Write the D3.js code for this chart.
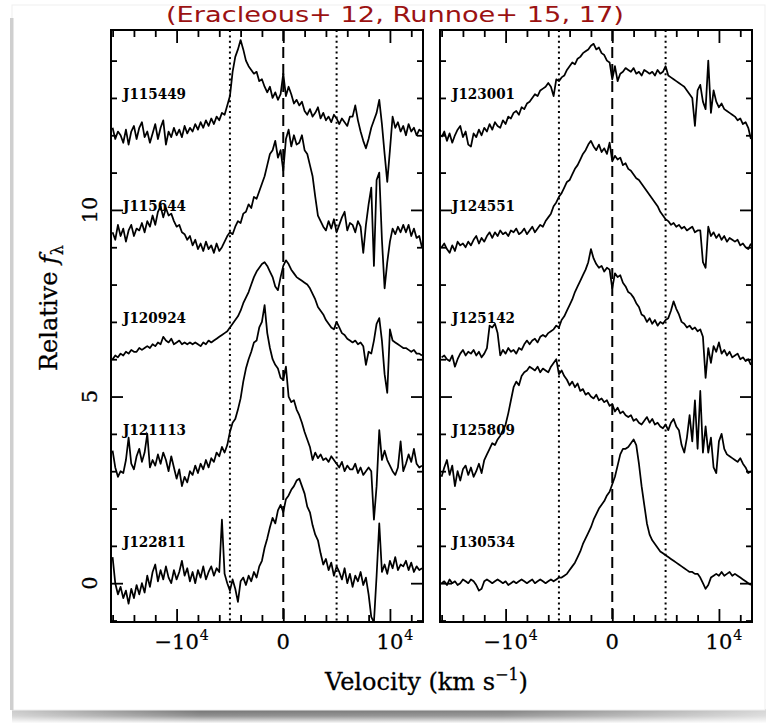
<!DOCTYPE html>
<html><head><meta charset="utf-8">
<script src="https://cdn.jsdelivr.net/npm/d3@7/dist/d3.min.js"></script>
<style>body{margin:0;background:#fff}svg{display:block}</style>
</head><body>
<svg id="chart" width="766" height="723"></svg>
<script>
// ---------------- DATA ----------------
const titleText = "(Eracleous+ 12, Runnoe+ 15, 17)";
// velocity sampling of every spectrum (km/s): start and step
const velStart = -16000, velStep = 250, nSamples = 117;
const velocity = d3.range(nSamples).map(i => velStart + i * velStep);

const leftNames  = ["J115449", "J115644", "J120924", "J121113", "J122811"];
const rightNames = ["J123001", "J124551", "J125142", "J125809", "J130534"];
const labelLevels = [13, 10, 7, 4, 1];

const xMajorTicks = [-10000, 0, 10000];
const xMinorTicks = [-16000,-14000,-12000,-8000,-6000,-4000,-2000,2000,4000,6000,8000,12000];
const xTickLabels = [{base:"\u221210", sup:"4"}, {base:"0", sup:""}, {base:"10", sup:"4"}];
const yMajorTicks = [0, 5, 10];
const yMinorTicks = [-1,1,2,3,4,6,7,8,9,11,12,13,14];
const yTickLabels = ["0", "5", "10"];
const refLines = {center: 0, wings: [-5000, 5000]};

const fluxJ115449 = [
12.2,11.9,12.1,12.0,11.8,12.15,11.75,12.1,12.25,11.9,
12.2,12.35,11.95,12.1,11.8,12.05,12.3,11.9,12.2,12.4,
11.75,12.1,11.95,12.2,12.0,12.15,11.95,12.25,12.05,12.2,
12.1,12.3,12.15,12.35,12.2,12.4,12.25,12.45,12.3,12.5,
12.4,12.6,12.55,12.8,13.05,13.7,14.1,14.3,14.55,14.3,
14.0,13.85,13.75,13.65,13.7,13.45,13.5,13.3,13.15,13.3,
13.0,13.15,12.95,13.1,13.65,13.05,13.3,13.1,12.85,12.95,
12.8,12.9,12.65,12.55,12.7,12.5,12.6,12.75,12.45,12.6,
12.4,12.5,12.35,12.55,12.45,12.3,12.45,12.35,12.25,12.5,
12.5,12.8,12.4,12.1,11.85,11.65,11.9,12.2,12.4,12.6,
12.95,12.3,11.5,10.75,11.6,12.5,12.2,12.35,12.1,12.25,
12.0,12.3,12.1,12.2,12.0,12.15,12.1];
const fluxJ115644 = [
9.4,9.2,9.6,9.3,9.5,9.15,9.45,9.6,9.3,9.5,
9.45,9.65,9.4,9.7,9.55,9.85,9.6,9.95,10.1,9.8,
10.05,9.85,9.9,9.7,9.55,9.6,9.4,9.35,9.2,9.3,
9.05,9.2,8.95,9.1,8.9,9.15,8.95,9.05,8.85,9.1,
8.9,9.0,9.15,9.3,9.4,9.35,9.55,9.7,9.65,9.9,
9.95,10.15,10.05,10.35,10.3,10.5,10.7,10.9,11.2,11.5,
11.6,11.85,11.4,11.6,11.05,11.9,12.15,11.7,12.0,11.75,
11.8,12.0,11.6,11.5,11.2,10.9,10.35,9.85,9.7,9.55,
9.45,9.7,9.5,9.75,9.4,9.6,9.8,9.95,9.45,9.65,
9.6,9.4,9.7,9.55,8.85,9.6,10.15,10.6,8.5,10.8,
11.0,9.2,7.9,8.6,9.15,9.5,9.35,9.55,9.4,9.6,
9.4,9.6,9.3,9.5,9.25,9.3,9.0];
const fluxJ120924 = [
6.0,6.1,6.05,6.15,6.1,6.2,6.15,6.25,6.2,6.2,
6.3,6.25,6.3,6.35,6.3,6.4,6.35,6.45,6.4,6.6,
6.5,6.45,6.55,6.4,6.45,6.5,6.4,6.45,6.4,6.45,
6.4,6.45,6.4,6.35,6.45,6.4,6.5,6.45,6.5,6.55,
6.6,6.65,6.7,6.75,6.85,6.95,7.05,7.15,7.3,7.5,
7.65,7.8,8.0,8.2,8.35,8.45,8.55,8.6,8.5,8.35,
8.2,7.95,7.85,8.2,8.5,8.65,8.55,8.4,8.3,8.2,
8.15,8.1,8.05,8.0,7.9,7.75,7.6,7.4,7.3,7.2,
7.05,6.95,6.85,6.8,7.0,6.85,6.7,6.65,6.55,6.5,
6.45,6.5,6.4,6.45,6.35,5.85,6.2,6.15,6.5,6.95,
7.1,6.5,5.6,5.1,6.8,6.5,6.45,6.4,6.35,6.3,
6.3,6.25,6.2,6.25,6.15,6.15,6.1];
const fluxJ121113 = [
3.55,3.1,2.85,3.0,2.95,3.3,3.9,3.2,3.05,3.4,
3.6,3.25,3.5,4.0,3.1,3.3,3.15,3.45,3.2,3.5,
3.3,3.0,3.4,3.1,2.8,3.05,2.6,2.85,2.7,3.0,
2.9,3.15,2.95,3.2,3.05,3.3,3.1,3.35,3.25,3.5,
3.4,3.65,3.5,3.7,4.05,4.3,4.4,4.65,4.95,5.4,
5.75,6.0,6.2,6.45,6.5,6.85,7.0,7.45,6.7,6.3,
6.0,5.85,5.75,5.5,5.45,5.8,5.0,4.85,4.9,4.65,
4.5,4.3,4.05,3.85,3.65,3.3,3.5,3.35,3.45,3.3,
3.35,3.25,3.4,3.3,3.2,3.1,3.25,3.0,3.15,3.05,
3.05,3.2,2.95,3.1,2.9,3.0,3.1,3.0,1.7,2.6,
4.1,3.3,3.55,3.3,3.15,3.0,2.9,3.1,3.8,3.0,
3.2,3.45,3.25,3.6,3.2,3.1,3.15];
const fluxJ122811 = [
0.7,0.0,-0.3,-0.1,-0.4,-0.2,-0.55,-0.15,-0.4,-0.05,
-0.3,0.0,-0.25,0.2,-0.1,0.3,0.5,0.05,0.35,0.1,
0.45,0.15,0.0,0.35,0.1,0.3,0.6,0.2,0.4,0.05,
0.3,0.0,0.35,0.15,0.45,0.1,0.3,0.45,0.2,0.4,
0.3,1.7,0.25,0.0,-0.2,0.1,-0.15,-0.5,0.05,0.15,
-0.05,0.2,0.05,0.3,0.15,0.45,0.6,0.95,1.2,1.5,
1.75,1.6,1.95,2.1,1.9,2.25,2.35,2.5,2.6,2.75,
2.8,2.6,2.4,2.05,1.9,1.55,1.3,1.15,0.8,0.5,
0.65,0.35,0.55,0.2,0.45,0.3,0.1,0.4,0.0,0.25,
-0.1,0.2,0.05,0.3,-0.05,0.15,-0.3,-0.9,-1.05,0.2,
1.6,0.3,0.5,0.25,0.6,0.4,0.7,0.35,0.5,0.45,
0.6,0.35,0.55,0.3,0.45,0.35,0.4];
const fluxJ123001 = [
11.95,12.1,11.85,12.05,11.8,12.0,12.15,12.25,11.95,12.1,
11.75,11.7,12.05,11.95,12.15,12.0,12.2,12.1,12.3,12.15,
12.35,12.25,12.2,12.4,12.3,12.5,12.45,12.6,12.65,12.55,
12.75,12.7,12.85,12.9,13.0,13.1,13.05,13.2,13.25,13.3,
13.4,13.3,13.05,13.5,13.45,13.55,13.6,13.75,13.85,13.95,
13.9,14.05,14.1,14.2,14.25,14.3,14.4,14.45,14.3,14.35,
14.2,14.15,14.0,13.95,13.5,13.85,13.45,13.65,13.7,13.8,
13.75,13.7,13.8,13.65,13.7,13.6,13.75,13.7,13.65,13.7,
13.6,13.75,13.65,13.7,13.85,13.6,13.55,13.5,13.45,13.4,
13.35,13.3,13.2,13.1,13.0,12.25,13.2,13.35,12.9,12.7,
14.0,12.6,13.2,12.9,12.75,12.85,12.7,12.65,12.6,12.55,
12.5,12.4,12.45,12.3,12.35,12.2,11.9];
const fluxJ124551 = [
9.0,9.1,8.95,8.85,9.05,8.9,9.15,9.05,9.1,9.0,
9.15,9.05,9.2,9.3,9.1,9.25,9.15,9.3,9.4,9.25,
9.4,9.3,9.45,9.35,9.4,9.3,9.45,9.4,9.5,9.35,
9.4,9.5,9.35,9.45,9.55,9.4,9.5,9.6,9.55,9.7,
9.8,9.9,10.1,10.2,10.35,10.45,10.6,10.75,10.8,10.95,
11.1,11.2,11.35,11.5,11.6,11.75,11.85,11.7,11.6,11.75,
11.55,11.65,11.5,11.8,11.3,11.45,11.35,11.4,11.2,11.25,
11.1,11.05,10.95,10.85,10.8,10.7,10.6,10.5,10.4,10.3,
10.2,10.1,9.95,9.85,9.75,9.7,9.6,9.65,9.55,9.6,
9.5,9.55,9.45,9.5,9.55,9.4,9.45,9.45,8.6,8.45,
9.55,9.3,9.4,9.25,9.35,9.2,9.3,9.15,9.25,9.2,
9.15,9.2,9.05,9.1,9.0,8.95,9.1];
const fluxJ125142 = [
6.05,6.1,6.0,5.95,6.1,5.8,6.0,6.15,6.25,6.1,
6.2,6.15,6.25,6.1,6.2,6.05,6.15,6.3,6.9,6.85,
6.95,6.7,6.1,6.25,6.15,6.3,6.2,6.25,6.15,6.3,
6.25,6.4,6.5,6.4,6.5,6.55,6.45,6.6,6.65,6.6,
6.7,6.75,6.8,6.9,6.85,7.05,7.15,7.3,7.45,7.6,
7.8,7.95,8.1,8.25,8.4,8.6,8.95,8.7,8.55,8.45,
8.5,8.35,8.45,8.4,7.9,8.3,8.2,8.25,8.05,7.95,
7.8,7.75,7.65,7.5,7.4,7.2,7.15,7.0,7.1,6.95,
7.05,6.9,7.0,6.95,7.05,7.1,7.3,7.55,7.35,7.2,
7.0,6.95,6.85,6.9,6.8,6.85,6.75,6.8,6.6,5.5,
6.3,5.9,6.35,6.2,6.45,6.15,6.25,6.1,6.2,6.05,
6.1,6.15,6.0,6.05,5.95,6.0,5.85];
const fluxJ125809 = [
2.85,3.1,3.3,2.9,3.15,2.6,3.0,2.75,3.05,3.15,
2.9,3.1,2.85,3.0,3.2,2.95,3.3,3.45,3.6,3.75,
3.7,3.85,3.95,4.1,4.25,4.55,4.9,5.25,5.4,5.3,
5.55,5.65,5.7,5.8,5.75,5.7,5.8,5.65,5.75,5.7,
5.65,5.8,5.9,6.0,5.6,5.7,5.55,5.45,5.3,5.4,
5.25,5.35,5.15,5.2,5.05,5.1,5.0,4.95,5.05,4.9,
4.95,4.85,4.9,4.75,4.8,4.6,4.7,4.55,4.6,4.5,
4.45,4.5,4.35,4.4,4.3,4.25,4.35,4.45,4.3,4.4,
4.25,4.3,4.2,4.15,4.25,4.1,4.3,4.4,4.2,4.1,
3.7,3.5,3.9,4.5,3.8,4.9,3.6,5.15,3.5,4.2,
3.5,3.9,3.1,2.95,3.8,4.0,3.6,3.45,3.4,3.35,
3.3,3.25,3.35,3.2,3.1,2.95,3.0];
const fluxJ130534 = [
0.0,0.05,-0.05,0.1,0.0,0.05,-0.05,0.0,0.1,0.05,
0.0,0.1,0.05,-0.05,-0.2,-0.15,0.05,0.1,0.05,0.0,
0.05,0.1,0.05,0.0,0.05,-0.05,0.0,0.05,0.0,0.05,
0.1,0.05,0.0,0.05,0.1,0.0,0.05,0.1,0.05,0.0,
0.05,0.1,0.05,0.1,0.15,0.15,0.2,0.25,0.35,0.45,
0.55,0.7,0.85,1.05,1.2,1.35,1.5,1.7,1.85,2.0,
2.1,2.2,2.35,2.45,2.65,2.85,3.15,3.45,3.6,3.6,
3.65,3.75,3.85,3.7,3.2,2.6,2.1,1.6,1.3,1.15,
1.05,0.95,0.85,0.8,0.75,0.7,0.65,0.6,0.55,0.5,
0.45,0.4,0.35,0.3,0.3,0.25,0.25,0.15,0.0,-0.15,
-0.05,0.15,0.2,0.25,0.2,0.3,0.2,0.25,0.3,0.2,
0.25,0.2,0.15,0.1,0.05,0.0,-0.05];

const leftFluxes  = [fluxJ115449, fluxJ115644, fluxJ120924, fluxJ121113, fluxJ122811];
const rightFluxes = [fluxJ123001, fluxJ124551, fluxJ125142, fluxJ125809, fluxJ130534];

// ---------------- DRAW ----------------
const svg = d3.select("#chart");
const defs = svg.append("defs");
const W = 766, H = 723;

// slide card with shadow
const gH = defs.append("linearGradient").attr("id","shH").attr("x1","0").attr("x2","1").attr("y1","0").attr("y2","0");
[[0,"#c8c8c8"],[0.25,"#6e6e6e"],[0.65,"#7a7a7a"],[1,"#d4d4d4"]].forEach(([o,c])=>gH.append("stop").attr("offset",o).attr("stop-color",c));
const gV = defs.append("linearGradient").attr("id","shV").attr("x1","0").attr("x2","0").attr("y1","0").attr("y2","1");
[[0,"#fff",1],[0.5,"#fff",0.75],[1,"#fff",0.05]].forEach(([o,c,a])=>gV.append("stop").attr("offset",o).attr("stop-color",c).attr("stop-opacity",a));
defs.append("mask").attr("id","shMask").append("rect").attr("x",0).attr("y",709).attr("width",W).attr("height",14).attr("fill","url(#shV)");
svg.append("rect").attr("x",12).attr("y",709).attr("width",W-12).attr("height",14).attr("fill","url(#shH)").attr("mask","url(#shMask)");
svg.append("rect").attr("x",12).attr("y",5).attr("width",753).attr("height",705).attr("fill","#fff").attr("stroke","#efefef").attr("stroke-width",1);
svg.append("rect").attr("x",10).attr("y",18).attr("width",3.5).attr("height",692).attr("fill","#cfcfcf");

// title
svg.append("text").attr("x",395).attr("y",22).attr("text-anchor","middle")
  .attr("font-family","'DejaVu Sans', sans-serif").attr("font-size",22)
  .attr("fill","#9b1212").attr("textLength",458).attr("lengthAdjust","spacingAndGlyphs")
  .text(titleText);

const yTop = 30, yBot = 622;
const y = d3.scaleLinear().domain([-1.04, 14.82]).range([yBot, yTop]);
const serif = "'DejaVu Serif', serif";

function panel(x0, x1, names, fluxes, id) {
  const x = d3.scaleLinear().domain([-16150, 13100]).range([x0, x1]);
  const g = svg.append("g");
  defs.append("clipPath").attr("id", "clip"+id).append("rect")
    .attr("x", x0).attr("y", yTop).attr("width", x1-x0).attr("height", yBot-yTop);

  // reference lines
  g.append("line").attr("x1", x(refLines.center)).attr("x2", x(refLines.center))
    .attr("y1", yTop).attr("y2", yBot).attr("stroke","#000").attr("stroke-width",2)
    .attr("stroke-dasharray","11,6");
  refLines.wings.forEach(v => g.append("line").attr("x1", x(v)).attr("x2", x(v))
    .attr("y1", yTop).attr("y2", yBot).attr("stroke","#000").attr("stroke-width",2)
    .attr("stroke-dasharray","2,3.4"));

  // spectra
  const line = d3.line().x((d,i) => x(velocity[i])).y(d => y(d));
  const sg = g.append("g").attr("clip-path", `url(#clip${id})`);
  fluxes.forEach(f => sg.append("path").attr("d", line(f)).attr("fill","none")
    .attr("stroke","#000").attr("stroke-width",1.75).attr("stroke-linejoin","round"));

  // labels
  names.forEach((n,k) => g.append("text").attr("x", x0+12).attr("y", y(labelLevels[k])+1.5)
    .attr("font-family", serif).attr("font-weight","bold").attr("font-size",14)
    .attr("textLength",63).attr("lengthAdjust","spacingAndGlyphs").text(n));

  // axes ticks (inward)
  const tk = (gen, vals, size, tr) => {
    const a = g.append("g").attr("transform", tr).call(gen.tickValues(vals).tickSize(size).tickFormat(""));
    a.select(".domain").remove();
    a.selectAll("line").attr("stroke","#000").attr("stroke-width",1.8);
  };
  tk(d3.axisBottom(x), xMinorTicks, -7, `translate(0,${yBot})`);
  tk(d3.axisBottom(x), xMajorTicks, -13, `translate(0,${yBot})`);
  tk(d3.axisTop(x), xMinorTicks, -7, `translate(0,${yTop})`);
  tk(d3.axisTop(x), xMajorTicks, -13, `translate(0,${yTop})`);
  tk(d3.axisLeft(y), yMinorTicks, -6, `translate(${x0},0)`);
  tk(d3.axisLeft(y), yMajorTicks, -12, `translate(${x0},0)`);
  tk(d3.axisRight(y), yMinorTicks, -6, `translate(${x1},0)`);
  tk(d3.axisRight(y), yMajorTicks, -12, `translate(${x1},0)`);

  // frame
  g.append("rect").attr("x", x0).attr("y", yTop).attr("width", x1-x0).attr("height", yBot-yTop)
    .attr("fill","none").attr("stroke","#000").attr("stroke-width",2);

  // x tick labels
  xMajorTicks.forEach((v,k) => {
    const lab = xTickLabels[k];
    const t = g.append("text").attr("y", 649).attr("font-family", serif).attr("font-size",21)
      .attr("stroke","#000").attr("stroke-width",0.3).text(lab.base);
    const w = t.node().getComputedTextLength();
    t.attr("x", x(v) - w/2);
    if (lab.sup) g.append("text").attr("x", x(v) + w/2 + 1).attr("y", 640)
      .attr("font-family", serif).attr("font-size",14).attr("stroke","#000").attr("stroke-width",0.2).text(lab.sup);
  });
  return x;
}

panel(111, 423, leftNames, leftFluxes, "L");
panel(440, 752, rightNames, rightFluxes, "R");

// y tick labels (rotated)
yMajorTicks.forEach((v,k) => svg.append("text")
  .attr("transform", `translate(97,${y(v)}) rotate(-90)`).attr("text-anchor","middle")
  .attr("font-family", serif).attr("font-size",21).attr("stroke","#000").attr("stroke-width",0.3)
  .text(yTickLabels[k]));

// y title
const yt = svg.append("text").attr("transform","translate(57,308) rotate(-90)").attr("text-anchor","middle")
  .attr("font-family", serif).attr("font-size",24).attr("stroke","#000").attr("stroke-width",0.3);
yt.append("tspan").text("Relative ");
yt.append("tspan").attr("font-style","italic").text("f");
yt.append("tspan").attr("font-size",16).attr("dy",6).text("\u03bb");

// x title
const xt = svg.append("text").attr("x",325).attr("y",690).attr("font-family", serif).attr("font-size",24)
  .attr("stroke","#000").attr("stroke-width",0.3);
xt.append("tspan").text("Velocity (km s");
xt.append("tspan").attr("font-size",16).attr("dy",-10).text("\u22121");
xt.append("tspan").attr("dy",10).text(")");
</script>
</body></html>
